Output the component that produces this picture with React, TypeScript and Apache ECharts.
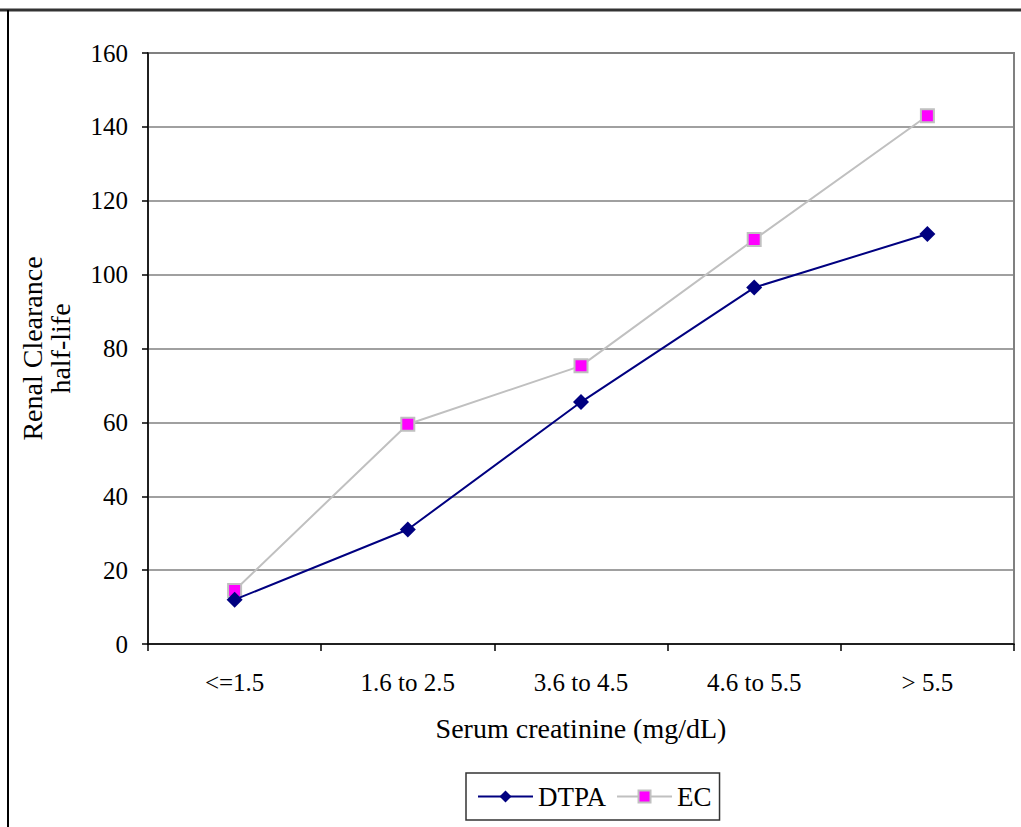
import React, { useEffect, useRef } from "react";
import * as echarts from "echarts";

const categories = ["<=1.5", "1.6 to 2.5", "3.6 to 4.5", "4.6 to 5.5", "> 5.5"];
const dtpaValues = [12, 31, 65.5, 96.5, 111];
const ecValues = [14.5, 59.5, 75.3, 109.5, 143];
const yTicks = { min: 0, max: 160, interval: 20 };

const FONT = "'Liberation Serif', 'Times New Roman', serif";

export default function App() {
  const ref = useRef<HTMLDivElement>(null);
  useEffect(() => {
    if (!ref.current) return;
    const chart = echarts.init(ref.current, undefined, { renderer: "svg" });
    chart.setOption({
      animation: false,
      backgroundColor: "#ffffff",
      textStyle: { fontFamily: FONT, color: "#000" },
      grid: {
        left: 148,
        right: 7,
        top: 53,
        bottom: 183,
        show: true,
        borderColor: "#808080",
        borderWidth: 2,
        backgroundColor: "transparent",
      },
      xAxis: {
        type: "category",
        data: categories,
        boundaryGap: true,
        axisLine: { lineStyle: { color: "#000", width: 1.5 } },
        axisTick: { show: true, length: 7, lineStyle: { color: "#000", width: 1.5 } },
        axisLabel: { fontFamily: FONT, fontSize: 25, color: "#000", margin: 26 },
        name: "Serum creatinine (mg/dL)",
        nameLocation: "middle",
        nameGap: 70,
        nameTextStyle: { fontFamily: FONT, fontSize: 28, color: "#000" },
        splitLine: { show: false },
      },
      yAxis: {
        type: "value",
        min: yTicks.min,
        max: yTicks.max,
        interval: yTicks.interval,
        axisLine: { show: true, lineStyle: { color: "#000", width: 1.5 } },
        axisTick: { show: true, length: 6, lineStyle: { color: "#000", width: 1.5 } },
        axisLabel: { fontFamily: FONT, fontSize: 25, color: "#000", margin: 20 },
        splitLine: { show: true, lineStyle: { color: "#808080", width: 1.5 } },
        name: "Renal Clearance\nhalf-life",
        nameLocation: "middle",
        nameRotate: 90,
        nameGap: 74,
        nameTextStyle: { fontFamily: FONT, fontSize: 28, color: "#000", lineHeight: 28, align: "center" },
      },
      legend: {
        left: 466,
        top: 773,
        orient: "horizontal",
        padding: [10, 8, 10, 11],
        itemGap: 10,
        itemWidth: 55,
        itemHeight: 15,
        borderColor: "#333",
        borderWidth: 1.5,
        backgroundColor: "#fff",
        textStyle: { fontFamily: FONT, fontSize: 27, color: "#000" },
        data: ["DTPA", "EC"],
      },
      graphic: [
        {
          type: "line",
          shape: { x1: 0, y1: 10, x2: 1021, y2: 10 },
          style: { stroke: "#333", lineWidth: 3 },
          z: 100,
        },
        {
          type: "line",
          shape: { x1: 8, y1: 10, x2: 8, y2: 827 },
          style: { stroke: "#000", lineWidth: 2 },
          z: 100,
        },
      ],
      series: [
        {
          name: "DTPA",
          type: "line",
          data: dtpaValues,
          symbol: "diamond",
          symbolSize: 16,
          itemStyle: { color: "#000080" },
          lineStyle: { color: "#000080", width: 2 },
          z: 3,
        },
        {
          name: "EC",
          type: "line",
          data: ecValues,
          symbol: "rect",
          symbolSize: 13,
          itemStyle: { color: "#ff00ff", borderColor: "#c0c0c0", borderWidth: 2 },
          lineStyle: { color: "#c0c0c0", width: 2 },
          z: 2,
        },
      ],
    });
    return () => chart.dispose();
  }, []);
  return (
    <div
      ref={ref}
      style={{ position: "absolute", left: 0, top: 0, width: 1021, height: 827 }}
    />
  );
}
